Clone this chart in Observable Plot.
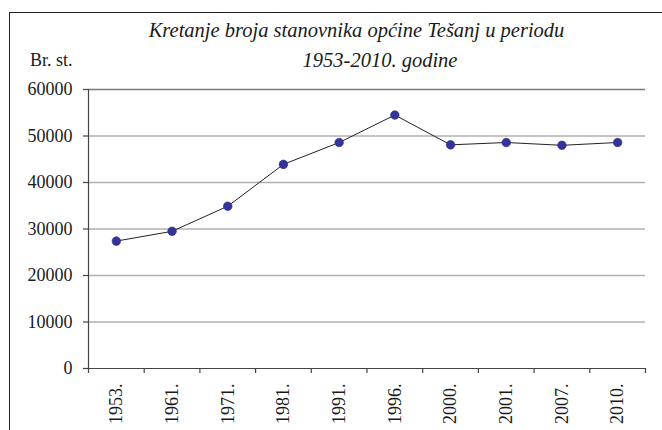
<!DOCTYPE html>
<html>
<head>
<meta charset="utf-8">
<script src="https://cdn.jsdelivr.net/npm/d3@7"></script>
<script src="https://cdn.jsdelivr.net/npm/@observablehq/plot@0.6"></script>
<style>
  html, body { margin: 0; padding: 0; background: #fff; }
  #wrap { position: relative; width: 662px; height: 430px; overflow: hidden; background: #fff; }
  #border { position: absolute; left: 9px; top: 12px; width: 800px; height: 600px;
            border-top: 1.5px solid #222; border-left: 1.5px solid #222; }
  .t { position: absolute; font-family: "Liberation Serif", "Times New Roman", serif; color: #1a1a1a; line-height: 1; white-space: nowrap; }
  .title { font-style: italic; font-size: 20.5px; transform: translateX(-50%); }
  #chart { position: absolute; left: 0; top: 0; }
</style>
</head>
<body>
<div id="wrap">
  <div id="border"></div>
  <div id="chart"></div>
  <div class="t title" id="t1" style="left:356.5px; top:20px;">Kretanje broja stanovnika općine Tešanj u periodu</div>
  <div class="t title" id="t2" style="left:380px; top:50px;">1953-2010. godine</div>
  <div class="t" id="ylab" style="left:30px; top:51px; font-size:18px;">Br. st.</div>
</div>
<script>
const years = ["1953.", "1961.", "1971.", "1981.", "1991.", "1996.", "2000.", "2001.", "2007.", "2010."];
const population = [27400, 29500, 34900, 43900, 48600, 54500, 48100, 48600, 48000, 48600];
const yTicks = [0, 10000, 20000, 30000, 40000, 50000, 60000];

const idx = (d, i) => i + 0.5;

const chart = Plot.plot({
  width: 662,
  height: 430,
  marginLeft: 88,
  marginRight: 17,
  marginTop: 89,
  marginBottom: 62,
  style: { fontFamily: "'Liberation Serif', 'Times New Roman', serif", fontSize: "18px", color: "#1a1a1a", background: "transparent" },
  x: { domain: [0, years.length], axis: null },
  y: { domain: [0, 60000], axis: null },
  marks: [
    Plot.ruleY(yTicks.filter(d => d > 0 && d < 60000), { stroke: "#b0b0b0", strokeWidth: 1.4 }),
    Plot.ruleY([60000], { stroke: "#7a7a7a", strokeWidth: 1.4 }),
    Plot.ruleX([0], { stroke: "#444", strokeWidth: 1.2 }),
    Plot.ruleY([0], { stroke: "#444", strokeWidth: 1.2 }),
    Plot.ruleX(d3.range(years.length + 1), { y1: 0, y2: 0, insetBottom: -5, stroke: "#444", strokeWidth: 1.2 }),
    Plot.axisY({ ticks: yTicks, tickSize: 5, tickPadding: 11, tickFormat: d => String(d), label: null, fontSize: 18, stroke: "#444", strokeWidth: 1.2 }),
    Plot.line(population, { x: idx, y: d => d, stroke: "#222", strokeWidth: 1 }),
    Plot.dot(population, { x: idx, y: d => d, r: 4.3, fill: "#33339a", stroke: "#2a2a80", strokeWidth: 0.6 }),
    Plot.text(years, { x: idx, frameAnchor: "bottom", text: d => d, rotate: -90, textAnchor: "end", lineAnchor: "middle", dy: 15, fontSize: 18, fill: "#1a1a1a" })
  ]
});
document.getElementById("chart").appendChild(chart);
</script>
</body>
</html>
